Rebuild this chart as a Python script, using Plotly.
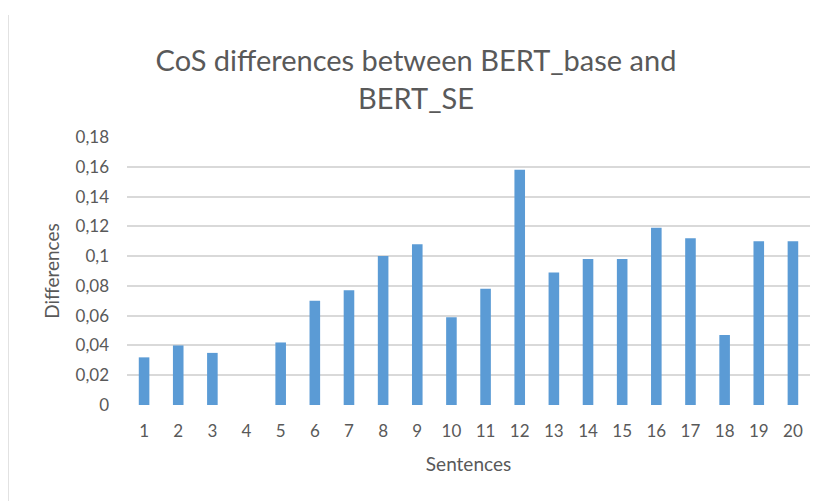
import plotly.graph_objects as go

sentences = [str(i) for i in range(1, 21)]
differences = [0.032, 0.040, 0.035, 0.0, 0.042, 0.070, 0.077, 0.100, 0.108, 0.059,
               0.078, 0.158, 0.089, 0.098, 0.098, 0.119, 0.112, 0.047, 0.110, 0.110]
y_tick_vals = [0, 0.02, 0.04, 0.06, 0.08, 0.10, 0.12, 0.14, 0.16, 0.18]
y_tick_labels = ["0", "0,02", "0,04", "0,06", "0,08", "0,1", "0,12", "0,14", "0,16", "0,18"]

FONT = "Lato"
GREY = "#595959"

# the page body adds an 8px offset, so the figure is 811x493 placed at (8, 8)
fig = go.Figure(go.Bar(
    x=sentences, y=differences,
    marker=dict(color="#5b9bd5", line=dict(width=0)),
))

fig.update_layout(
    width=811, height=493,
    margin=dict(l=119, r=9, t=129, b=96),
    paper_bgcolor="white", plot_bgcolor="white",
    bargap=0.69,
    showlegend=False,
    font=dict(family=FONT, color=GREY, size=17),
    title=dict(
        text="CoS differences between BERT_base and<br>BERT_SE",
        x=408 / 811, xanchor="center", xref="container",
        y=1 - 63 / 493, yanchor="middle", yref="container",
        font=dict(family=FONT, size=29, color=GREY),
    ),
    xaxis=dict(
        type="category",
        showgrid=False, showline=False, zeroline=False,
        ticks="", tickfont=dict(size=17, color=GREY),
        ticklabelstandoff=14,
        title=dict(text="Sentences", font=dict(size=19, color=GREY), standoff=17),
    ),
    yaxis=dict(
        range=[0, 0.18],
        tickvals=y_tick_vals, ticktext=y_tick_labels,
        showgrid=True, gridcolor="#d9d9d9", gridwidth=1.5,
        zeroline=False, showline=False, ticks="",
        tickfont=dict(size=17, color=GREY),
        ticklabelstandoff=17,
        title=dict(text="Differences", font=dict(size=19, color=GREY), standoff=10),
    ),
    shapes=[dict(type="line", xref="paper", yref="paper",
                 x0=-119 / 683, x1=-119 / 683,
                 y0=-96 / 268, y1=(268 + 129 - 7) / 268,
                 line=dict(color="#d9d9d9", width=1.5))],
)

fig.write_html("out.html")
